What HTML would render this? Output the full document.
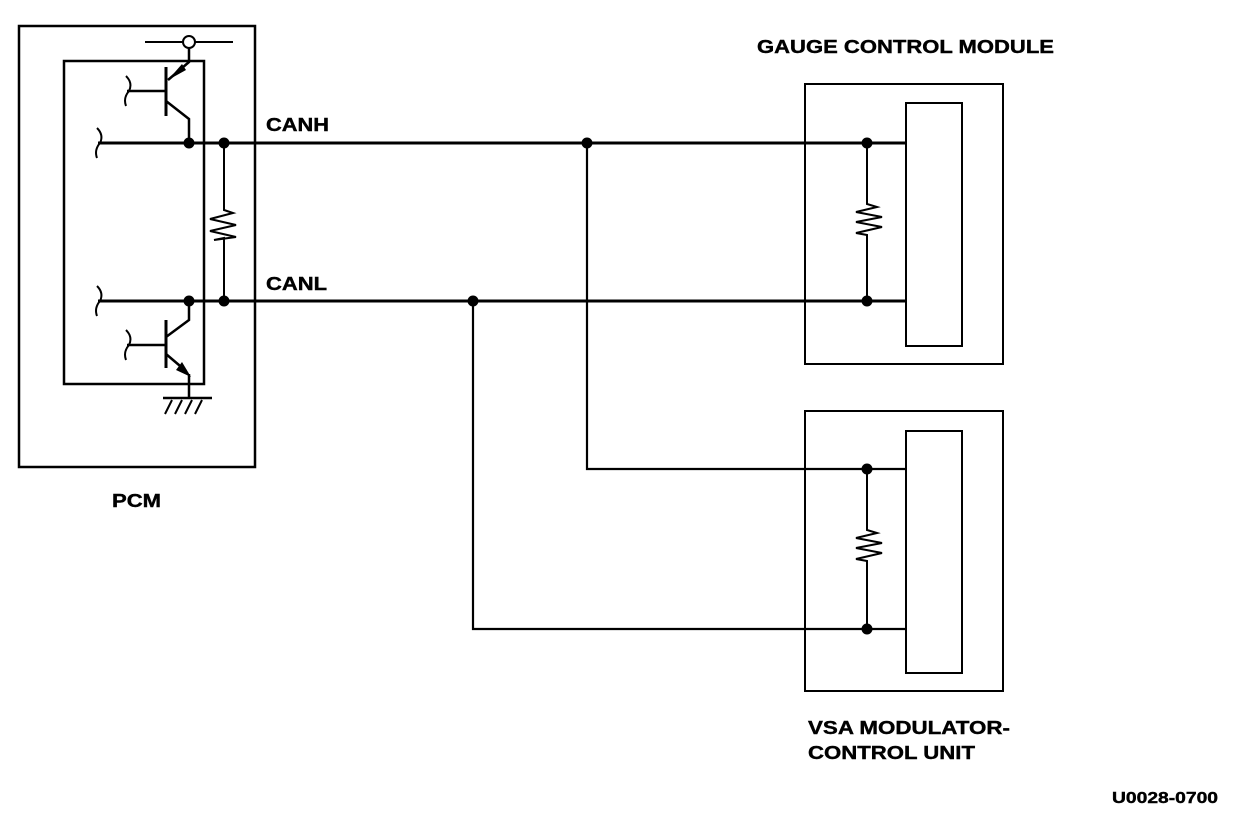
<!DOCTYPE html>
<html><head><style>body{margin:0;background:#fff}svg{display:block}</style></head>
<body>
<svg width="1248" height="818" viewBox="0 0 1248 818" xmlns="http://www.w3.org/2000/svg">
<g fill="none" stroke="#000" stroke-width="2.5">
<rect x="19" y="26" width="236" height="441"/>
<rect x="64" y="61" width="140" height="323"/>
<rect x="805" y="84" width="198" height="280" stroke-width="2"/>
<rect x="906" y="103" width="56" height="243" stroke-width="2"/>
<rect x="805" y="411" width="198" height="280" stroke-width="2"/>
<rect x="906" y="431" width="56" height="242" stroke-width="2"/>
<path d="M98 143H906M98 301H906" stroke-width="3"/>
<path d="M587 143V469H906M473 301V629H906" stroke-width="2.2"/>
<path d="M145 42H233" stroke-width="2"/>
<path d="M189 47V62L168 80"/>
<path d="M166 67V116" stroke-width="3"/>
<path d="M127 91H166"/>
<path d="M166 101L189 119V143"/>
<path d="M189 301V320L166 337"/>
<path d="M166 320V368" stroke-width="3"/>
<path d="M127 345H166"/>
<path d="M166 354L186 371M189 374V398"/>
<path d="M163 398H212" stroke-width="2.5"/>
<path d="M172 400L165 414M182 400L175 414M192 400L185 414M202 400L195 414" stroke-width="2"/>
<path d="M97 128Q104 135 100 143Q94 150 97 158" stroke-width="2"/>
<path d="M97 286Q104 293 100 301Q94 308 97 316" stroke-width="2"/>
<path d="M126 76Q133 83 129 91Q123 98 126 106" stroke-width="2"/>
<path d="M126 330Q133 337 129 345Q123 352 126 360" stroke-width="2"/>
<path d="M224 143V210L233 213L210 219L236 225L210 231L236 237L214 240L224 238V301" stroke-width="2"/>
<path d="M867 143V204L877 207L856 212L882 217L856 222L882 227L856 233L867 235V301" stroke-width="2"/>
<path d="M867 469V530L877 533L856 538L882 543L856 548L882 553L856 559L867 561V629" stroke-width="2"/>
</g>
<circle cx="189" cy="42" r="6" fill="#fff" stroke="#000" stroke-width="2"/>
<polygon points="168,80 182,64 186,70" fill="#000"/>
<polygon points="191,377 176,370 182,362" fill="#000"/>
<g fill="#000">
<circle cx="189" cy="143" r="5.5"/><circle cx="224" cy="143" r="5.5"/>
<circle cx="189" cy="301" r="5.5"/><circle cx="224" cy="301" r="5.5"/>
<circle cx="587" cy="143" r="5.5"/><circle cx="473" cy="301" r="5.5"/>
<circle cx="867" cy="143" r="5.5"/><circle cx="867" cy="301" r="5.5"/>
<circle cx="867" cy="469" r="5.5"/><circle cx="867" cy="629" r="5.5"/>
</g>
<g font-family="Liberation Sans, Arial, sans-serif" font-weight="bold" font-size="18" fill="#000" stroke="#000" stroke-width="0.4">
<text x="757" y="53" textLength="297" lengthAdjust="spacingAndGlyphs">GAUGE CONTROL MODULE</text>
<text x="266" y="131" textLength="63" lengthAdjust="spacingAndGlyphs">CANH</text>
<text x="266" y="290" textLength="61" lengthAdjust="spacingAndGlyphs">CANL</text>
<text x="112" y="507" textLength="49" lengthAdjust="spacingAndGlyphs">PCM</text>
<text x="808" y="734" textLength="202" lengthAdjust="spacingAndGlyphs">VSA MODULATOR-</text>
<text x="808" y="759" textLength="167" lengthAdjust="spacingAndGlyphs">CONTROL UNIT</text>
<text x="1112" y="803" font-size="16" textLength="106" lengthAdjust="spacingAndGlyphs">U0028-0700</text>
</g>
</svg>
</body></html>
